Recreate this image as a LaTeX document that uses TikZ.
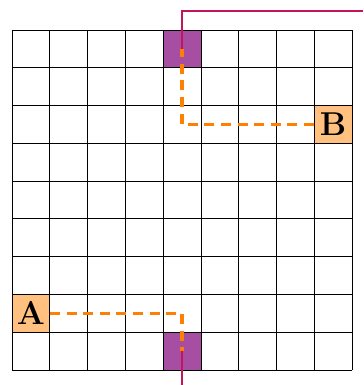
\documentclass[tikz,border=0pt]{standalone}
\definecolor{cellpurple}{RGB}{166,79,162}
\definecolor{wirered}{RGB}{196,20,92}
\definecolor{pinorange}{RGB}{255,192,128}
\definecolor{pathorange}{RGB}{255,128,0}
\begin{document}
\begin{tikzpicture}[x=1cm,y=1cm,
  gridline/.style={draw=black,line width=0.6pt},
  pcell/.style={rectangle,fill=cellpurple,minimum size=1cm,inner sep=0pt},
  pincell/.style={rectangle,fill=pinorange,minimum size=1cm,inner sep=0pt,font=\Huge\bfseries},
  wire/.style={draw=wirered,line width=1.5pt},
  route/.style={draw=pathorange,line width=2.6pt,dash pattern=on 7.5pt off 5pt}]
\useasboundingbox (-0.318,-0.397) rectangle (9.291,9.794);
\node[pcell] (T) at (4.5,8.5) {};
\node[pcell] (D) at (4.5,0.5) {};
\node[pincell] (A) at (0.5,1.5) {A};
\node[pincell] (B) at (8.5,6.5) {B};
\draw[gridline] (0,0) grid (9,9);
\coordinate (r1) at (4.5,9.5);
\coordinate (r2) at (9.291,9.5);
\coordinate (r3) at (4.5,-0.397);
\draw[wire] (T.center) -- (r1) -- (r2);
\draw[wire] (D.center) -- (r3);
\draw[route] (B.west) -| (T.center);
\draw[route] (A.east) -| (D.center);
\end{tikzpicture}
\end{document}
